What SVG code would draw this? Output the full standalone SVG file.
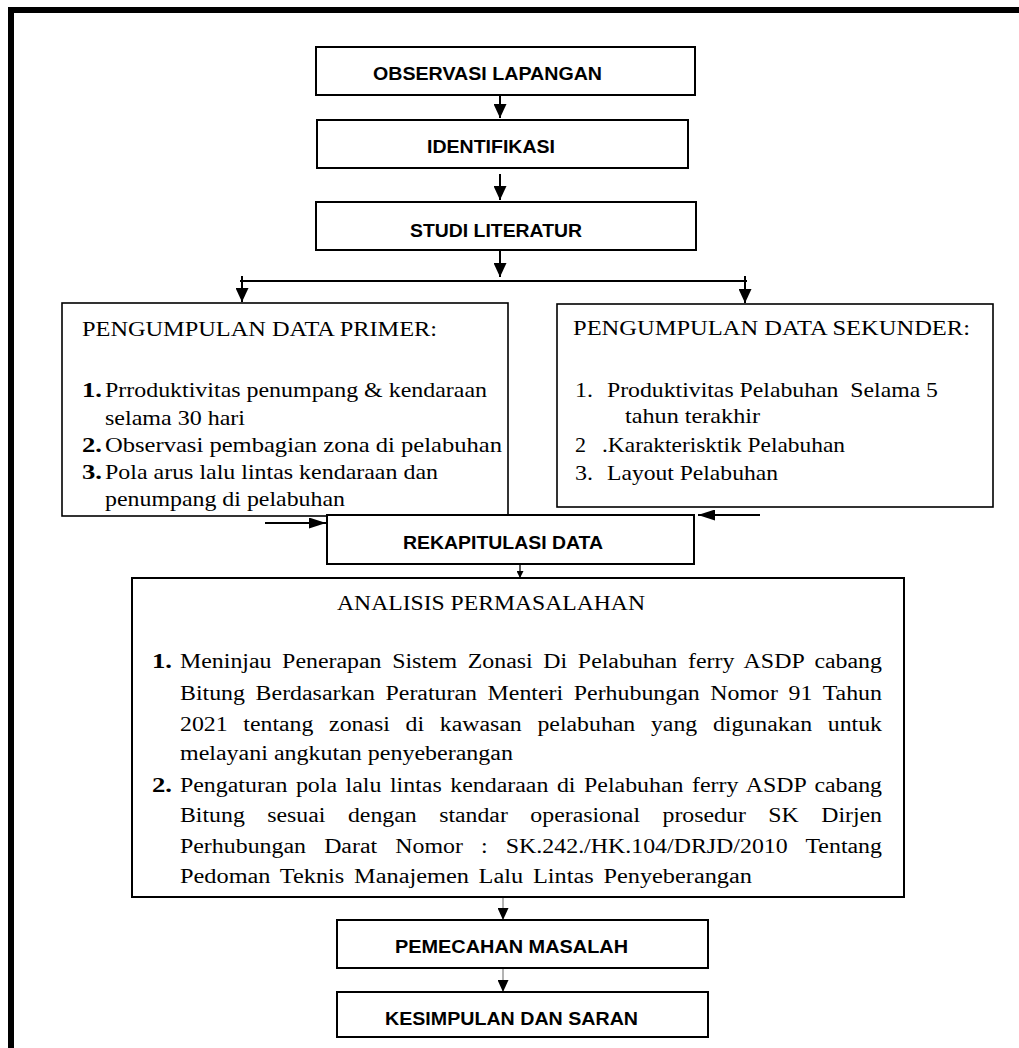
<svg xmlns="http://www.w3.org/2000/svg" width="1019" height="1048" viewBox="0 0 1019 1048">
<style>
.box{fill:#fff;stroke:#000;stroke-width:2}
.hd{font-family:'Liberation Sans',Arial,sans-serif;font-weight:bold;font-size:18.5px;fill:#000}
.tr{font-family:'Liberation Serif','Times New Roman','DejaVu Serif',serif;font-size:21px;fill:#000}
.tr20{font-size:20px}
.b{font-weight:bold}
.conn{stroke:#000;stroke-width:2;fill:none}
.thin{stroke:#000;stroke-width:1.3;fill:none}
.gray{stroke:#8a8a8a;stroke-width:1.3;fill:none}
</style>
<defs>
<marker id="ah" markerUnits="userSpaceOnUse" markerWidth="14" markerHeight="13" refX="14" refY="6.5" orient="auto"><path d="M0,0 L14,6.5 L0,13 z" fill="#000"/></marker>
<marker id="ahh" markerUnits="userSpaceOnUse" markerWidth="17" markerHeight="11" refX="17" refY="5.5" orient="auto"><path d="M0,0 L17,5.5 L0,11 z" fill="#000"/></marker>
<marker id="ahm" markerUnits="userSpaceOnUse" markerWidth="12" markerHeight="11" refX="12" refY="5.5" orient="auto"><path d="M0,0 L12,5.5 L0,11 z" fill="#000"/></marker>
<marker id="ahs" markerUnits="userSpaceOnUse" markerWidth="7" markerHeight="7" refX="7" refY="3.5" orient="auto"><path d="M0,0 L7,3.5 L0,7 z" fill="#000"/></marker>
</defs>
<rect width="1019" height="1048" fill="#fff"/>
<path d="M11,1048 V10 H1019" fill="none" stroke="#000" stroke-width="6"/>

<g id="connectors">
<line class="conn" x1="500" y1="95" x2="500" y2="118" marker-end="url(#ah)"/>
<line class="conn" x1="500" y1="174" x2="500" y2="200" marker-end="url(#ah)"/>
<line class="conn" x1="500" y1="250" x2="500" y2="277" marker-end="url(#ah)"/>
<line class="conn" x1="240" y1="281" x2="747" y2="281"/>
<line class="conn" x1="242" y1="276" x2="242" y2="302" marker-end="url(#ah)"/>
<line class="conn" x1="745" y1="276" x2="745" y2="303" marker-end="url(#ah)"/>
<line class="conn" x1="265" y1="523" x2="326" y2="523" marker-end="url(#ahh)"/>
<line class="conn" x1="760" y1="515" x2="698" y2="515" marker-end="url(#ahh)"/>
<line class="thin" x1="520" y1="564" x2="520" y2="578" marker-end="url(#ahs)"/>
<line class="gray" x1="503" y1="897" x2="503" y2="920" marker-end="url(#ahm)"/>
<line class="gray" x1="503" y1="968" x2="503" y2="992" marker-end="url(#ahm)"/>
</g>

<g id="observasi">
<rect class="box" x="316" y="47" width="379" height="48"/>
<text class="hd" x="373" y="80" textLength="229" lengthAdjust="spacingAndGlyphs">OBSERVASI LAPANGAN</text>
</g>
<g id="identifikasi">
<rect class="box" x="317" y="120" width="371" height="48"/>
<text class="hd" x="427" y="153" textLength="128" lengthAdjust="spacingAndGlyphs">IDENTIFIKASI</text>
</g>
<g id="studi">
<rect class="box" x="316" y="202" width="380" height="48"/>
<text class="hd" x="410" y="237" textLength="172" lengthAdjust="spacingAndGlyphs">STUDI LITERATUR</text>
</g>

<g id="primer" font-family="Liberation Serif, Times New Roman, DejaVu Serif, serif">
<rect class="box" x="62" y="303" width="446" height="213" style="stroke-width:1.6"/>
<text class="tr" x="82" y="336" textLength="355" lengthAdjust="spacingAndGlyphs">PENGUMPULAN DATA PRIMER:</text>
<text class="tr b" x="82" y="397" textLength="20" lengthAdjust="spacingAndGlyphs">1.</text>
<text class="tr" x="105" y="397" textLength="382" lengthAdjust="spacingAndGlyphs">Prroduktivitas penumpang &amp; kendaraan</text>
<text class="tr" x="105" y="425" textLength="140" lengthAdjust="spacingAndGlyphs">selama 30 hari</text>
<text class="tr b" x="82" y="452" textLength="20" lengthAdjust="spacingAndGlyphs">2.</text>
<text class="tr" x="105" y="452" textLength="397" lengthAdjust="spacingAndGlyphs">Observasi pembagian zona di pelabuhan</text>
<text class="tr b" x="82" y="479" textLength="20" lengthAdjust="spacingAndGlyphs">3.</text>
<text class="tr" x="105" y="479" textLength="333" lengthAdjust="spacingAndGlyphs">Pola arus lalu lintas kendaraan dan</text>
<text class="tr" x="105" y="506" textLength="240" lengthAdjust="spacingAndGlyphs">penumpang di pelabuhan</text>
</g>

<g id="sekunder">
<rect class="box" x="557" y="304" width="436" height="203" style="stroke-width:1.6"/>
<text class="tr" x="573" y="335" textLength="397" lengthAdjust="spacingAndGlyphs">PENGUMPULAN DATA SEKUNDER:</text>
<text class="tr" x="575" y="397" textLength="18" lengthAdjust="spacingAndGlyphs">1.</text>
<text class="tr" x="607" y="397" textLength="331" lengthAdjust="spacingAndGlyphs" xml:space="preserve">Produktivitas Pelabuhan  Selama 5</text>
<text class="tr" x="625" y="423" textLength="135" lengthAdjust="spacingAndGlyphs">tahun terakhir</text>
<text class="tr" x="575" y="452" textLength="11" lengthAdjust="spacingAndGlyphs">2</text>
<text class="tr" x="602" y="452" textLength="243" lengthAdjust="spacingAndGlyphs">.Karakterisktik Pelabuhan</text>
<text class="tr" x="575" y="480" textLength="18" lengthAdjust="spacingAndGlyphs">3.</text>
<text class="tr" x="607" y="480" textLength="171" lengthAdjust="spacingAndGlyphs">Layout Pelabuhan</text>
</g>

<g id="rekapitulasi">
<rect class="box" x="327" y="515" width="367" height="49"/>
<text class="hd" x="403" y="549" textLength="200" lengthAdjust="spacingAndGlyphs">REKAPITULASI DATA</text>
</g>

<g id="analisis">
<rect class="box" x="132" y="578" width="772" height="319"/>
<text class="tr" x="337" y="610" textLength="308" lengthAdjust="spacingAndGlyphs">ANALISIS PERMASALAHAN</text>
<text class="tr tr20 b" x="152" y="668" textLength="20" lengthAdjust="spacingAndGlyphs">1.</text>
<text class="tr tr20" x="180" y="668" textLength="702" lengthAdjust="spacingAndGlyphs" word-spacing="3.9">Meninjau Penerapan Sistem Zonasi Di Pelabuhan ferry ASDP cabang</text>
<text class="tr tr20" x="180" y="700" textLength="702" lengthAdjust="spacingAndGlyphs" word-spacing="3.9">Bitung Berdasarkan Peraturan Menteri Perhubungan Nomor 91 Tahun</text>
<text class="tr tr20" x="180" y="731" textLength="702" lengthAdjust="spacingAndGlyphs" word-spacing="8.2">2021 tentang zonasi di kawasan pelabuhan yang digunakan untuk</text>
<text class="tr tr20" x="180" y="760" textLength="333" lengthAdjust="spacingAndGlyphs">melayani angkutan penyeberangan</text>
<text class="tr tr20 b" x="152" y="792" textLength="20" lengthAdjust="spacingAndGlyphs">2.</text>
<text class="tr tr20" x="180" y="792" textLength="702" lengthAdjust="spacingAndGlyphs" word-spacing="2.2">Pengaturan pola lalu lintas kendaraan di Pelabuhan ferry ASDP cabang</text>
<text class="tr tr20" x="180" y="822" textLength="702" lengthAdjust="spacingAndGlyphs" word-spacing="13.9">Bitung sesuai dengan standar operasional prosedur SK Dirjen</text>
<text class="tr tr20" x="180" y="853" textLength="702" lengthAdjust="spacingAndGlyphs" word-spacing="10.2">Perhubungan Darat Nomor : SK.242./HK.104/DRJD/2010 Tentang</text>
<text class="tr tr20" x="180" y="883" textLength="572" lengthAdjust="spacingAndGlyphs" word-spacing="3">Pedoman Teknis Manajemen Lalu Lintas Penyeberangan</text>
</g>

<g id="pemecahan">
<rect class="box" x="337" y="920" width="371" height="48"/>
<text class="hd" x="395" y="953" textLength="233" lengthAdjust="spacingAndGlyphs">PEMECAHAN MASALAH</text>
</g>
<g id="kesimpulan">
<rect class="box" x="337" y="992" width="371" height="45"/>
<text class="hd" x="385" y="1025" textLength="253" lengthAdjust="spacingAndGlyphs">KESIMPULAN DAN SARAN</text>
</g>
</svg>
